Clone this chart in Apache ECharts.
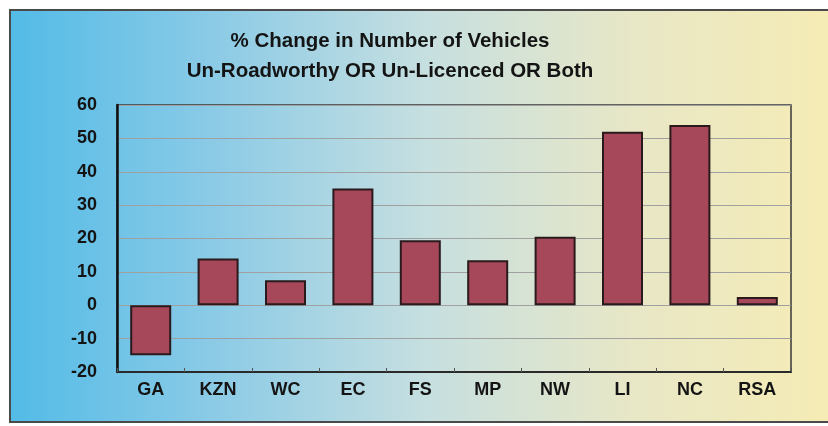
<!DOCTYPE html>
<html>
<head>
<meta charset="utf-8">
<script src="https://cdn.jsdelivr.net/npm/echarts@6/dist/echarts.min.js"></script>
<style>
  html, body { margin: 0; padding: 0; background: #fff; }
  #chart { width: 828px; height: 426px; }
</style>
</head>
<body>
<div id="chart"></div>
<script>
// provinces and % change
const regions = ["GA", "KZN", "WC", "EC", "FS", "MP", "NW", "LI", "NC", "RSA"];
const pctChange = [-15, 14, 7.5, 35, 19.5, 13.5, 20.5, 52, 54, 2.5];
const yTicks = { min: -20, max: 60, step: 10 };

(function () {
  const dom = document.getElementById("chart");
  const chart = echarts.init(dom);
  const font = "'Liberation Sans', Arial, sans-serif";

  chart.setOption({
    animation: false,
    graphic: [
      {
        type: "rect",
        z: -10,
        silent: true,
        shape: { x: 10, y: 10, width: 830, height: 412 },
        style: {
          fill: new echarts.graphic.LinearGradient(0, 0, 1, 0, [
            { offset: 0, color: "#52bbe7" },
            { offset: 0.25, color: "#8ccbe6" },
            { offset: 0.5, color: "#c6dfe0" },
            { offset: 0.75, color: "#e8e7c6" },
            { offset: 1, color: "#f6ecb4" },
          ]),
          stroke: "#4a4a4a",
          lineWidth: 2,
        },
      },
    ],
    title: {
      text: "% Change in Number of Vehicles\nUn-Roadworthy OR Un-Licenced OR Both",
      left: 385,
      top: 21,
      textAlign: "center",
      textStyle: {
        fontFamily: font,
        fontWeight: "bold",
        fontSize: 20.5,
        lineHeight: 30,
        color: "#141414",
      },
    },
    grid: {
      left: 117,
      top: 105,
      right: 37,
      bottom: 54,
      show: true,
      borderColor: "#3a3a3a",
      borderWidth: 1.5,
      backgroundColor: "transparent",
    },
    xAxis: {
      type: "category",
      data: regions,
      axisLine: { onZero: false, lineStyle: { color: "#2a2a2a", width: 2 } },
      axisTick: { show: true, inside: true, length: 4, lineStyle: { color: "#555" } },
      axisLabel: {
        margin: 9,
        fontFamily: font,
        fontWeight: "bold",
        fontSize: 18,
        color: "#141414",
      },
    },
    yAxis: {
      type: "value",
      min: yTicks.min,
      max: yTicks.max,
      interval: yTicks.step,
      axisLine: { show: true, lineStyle: { color: "#111", width: 2.5 } },
      axisTick: { show: false },
      splitLine: { lineStyle: { color: "#a0a0a0", width: 1 } },
      axisLabel: {
        margin: 20,
        fontFamily: font,
        fontWeight: "bold",
        fontSize: 18,
        color: "#141414",
      },
    },
    series: [
      {
        type: "bar",
        data: pctChange,
        barWidth: 41,
        itemStyle: {
          color: "#a6475a",
          borderColor: "#2a1a1c",
          borderWidth: 2,
        },
      },
    ],
  });
})();
</script>
</body>
</html>
